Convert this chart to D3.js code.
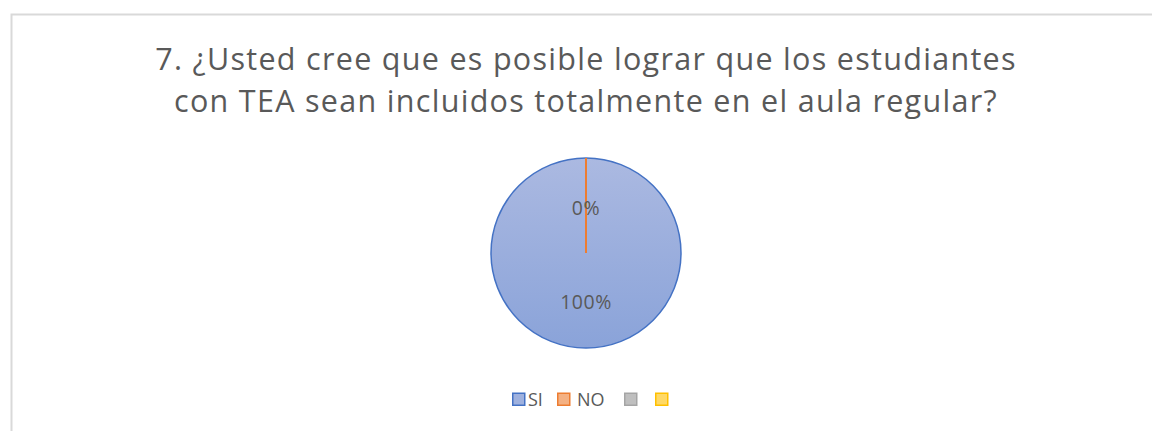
<!DOCTYPE html>
<html lang="es">
<head>
<meta charset="UTF-8">
<title>Pie chart</title>
<script src="https://d3js.org/d3.v7.min.js"></script>
<style>
  body { margin: 0; background: #fff; }
  svg { display: block; font-family: "Open Sans", "Liberation Sans", sans-serif; }
</style>
</head>
<body>
<script>
const categories = ["SI", "NO", "", ""];
const values = [100, 0, 0, 0];
const pctLabels = ["100%", "0%"];
const titleLines = [
  "7. ¿Usted cree que es posible lograr que los estudiantes",
  "con TEA sean incluidos totalmente en el aula regular?"
];

const w = 1152, h = 431;
const cx = 586, cy = 253, r = 95;
const fills = ["url(#gradSI)", "#f4b183", "#bfbfbf", "#ffd966"];
const strokes = ["#4472c4", "#ed7d31", "#a5a5a5", "#ffc000"];

const svg = d3.select("body").append("svg")
  .attr("width", w).attr("height", h);

const defs = svg.append("defs");
const grad = defs.append("linearGradient").attr("id", "gradSI")
  .attr("x1", 0).attr("y1", 0).attr("x2", 0).attr("y2", 1);
grad.append("stop").attr("offset", "0%").attr("stop-color", "#abb9e1");
grad.append("stop").attr("offset", "100%").attr("stop-color", "#8aa3d9");

// chart frame
svg.append("rect")
  .attr("x", 11.5).attr("y", 14.5)
  .attr("width", w + 20).attr("height", h + 20)
  .attr("fill", "none").attr("stroke", "#d9d9d9").attr("stroke-width", 2);

// title
svg.append("g").selectAll("text")
  .data(titleLines)
  .join("text")
  .attr("x", cx)
  .attr("y", (d, i) => 70 + i * 42)
  .attr("text-anchor", "middle")
  .attr("fill", "#595959")
  .style("font-size", "30.5px")
  .style("letter-spacing", "1.3px")
  .text(d => d);

// pie
const data = categories.slice(0, 2).map((c, i) => ({ name: c, value: values[i], i }));
const pie = d3.pie().value(d => d.value).sort(null);
const arcs = pie(data);
const arc = d3.arc().innerRadius(0).outerRadius(r);

const g = svg.append("g").attr("transform", `translate(${cx},${cy})`);
g.selectAll("path")
  .data(arcs.filter(a => a.data.value > 0))
  .join("path")
  .attr("d", arc)
  .attr("fill", d => fills[d.data.i])
  .attr("stroke", d => strokes[d.data.i])
  .attr("stroke-width", 1.5);

// zero slice drawn as a line at its angle
arcs.filter(a => a.data.value === 0).forEach(a => {
  const ang = a.startAngle;
  g.append("line")
    .attr("x1", 0).attr("y1", 0)
    .attr("x2", r * Math.sin(ang)).attr("y2", -r * Math.cos(ang))
    .attr("stroke", strokes[a.data.i]).attr("stroke-width", 2);
});

// percentage labels
const labelPos = [[0, 49], [0, -45]];
g.selectAll("text.pct")
  .data(arcs)
  .join("text")
  .attr("class", "pct")
  .attr("x", (d, i) => labelPos[i][0])
  .attr("y", (d, i) => labelPos[i][1])
  .attr("text-anchor", "middle")
  .attr("dy", "0.35em")
  .attr("fill", "#595959")
  .style("font-size", "19.5px")
  .style("letter-spacing", "0.5px")
  .text((d, i) => pctLabels[i]);

// legend
const legX = [512, 557, 624, 655];
const legend = svg.append("g").selectAll("g")
  .data(categories)
  .join("g")
  .attr("transform", (d, i) => `translate(${legX[i]},392.5)`);
legend.append("rect")
  .attr("x", 0.75).attr("y", 0.75)
  .attr("width", 12).attr("height", 12)
  .attr("fill", (d, i) => i === 0 ? "#9fb1de" : fills[i])
  .attr("stroke", (d, i) => strokes[i]).attr("stroke-width", 1.5);
legend.append("text")
  .attr("x", (d, i) => i === 1 ? 20 : 16).attr("y", 7).attr("dy", "0.35em")
  .attr("fill", "#595959")
  .style("font-size", "18px")
  .text(d => d);
</script>
</body>
</html>
